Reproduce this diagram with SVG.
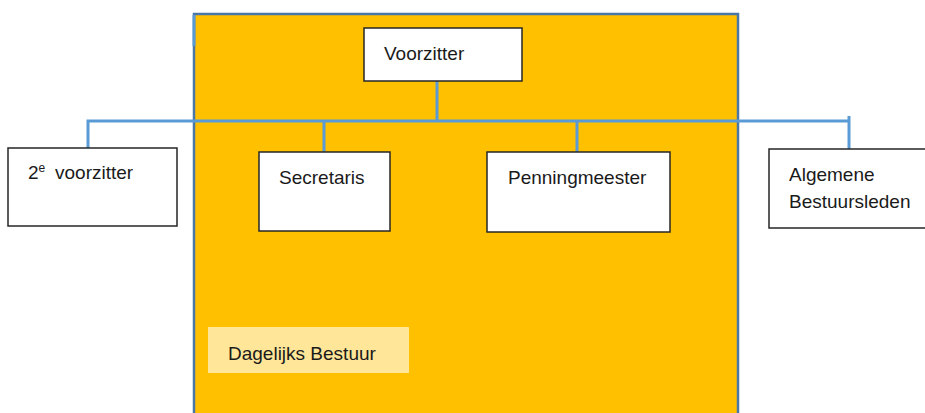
<svg xmlns="http://www.w3.org/2000/svg" width="925" height="413" viewBox="0 0 925 413">
<style>
.box{fill:#fff;stroke:#262626;stroke-width:1.5}
.t{font-family:"Liberation Sans",Arial,sans-serif;font-size:19px;fill:#1a1a1a}
.c{stroke:#5B9BD5;stroke-width:3;fill:none}
</style>
<rect width="925" height="413" fill="#fff"/>
<g id="dagelijks-bestuur-frame">
<rect x="194" y="14" width="544" height="410" fill="#FFC000" stroke="#4A76A8" stroke-width="2.5"/>
<rect x="208" y="327" width="201" height="46" fill="#FFE699"/>
<text class="t" x="228" y="360">Dagelijks Bestuur</text>
</g>
<g id="connectors">
<line class="c" x1="194" y1="15" x2="194" y2="46" stroke-width="2.5"/>
<line class="c" x1="437" y1="77" x2="437" y2="121"/>
<polyline class="c" points="88,149 88,121 849,121"/>
<line class="c" x1="849" y1="116" x2="849" y2="149"/>
<line class="c" x1="324" y1="121" x2="324" y2="152"/>
<line class="c" x1="577" y1="121" x2="577" y2="152"/>
</g>
<g id="voorzitter">
<rect class="box" x="364" y="28" width="158" height="53"/>
<text class="t" x="384" y="60" font-size="20">Voorzitter</text>
</g>
<g id="tweede-voorzitter">
<rect class="box" x="8" y="148" width="169" height="78"/>
<text class="t" x="28" y="179">2<tspan font-size="12" dy="-7">e</tspan></text>
<text class="t" x="55" y="179">voorzitter</text>
</g>
<g id="secretaris">
<rect class="box" x="259" y="152" width="131" height="79"/>
<text class="t" x="279" y="184">Secretaris</text>
</g>
<g id="penningmeester">
<rect class="box" x="487" y="152" width="183" height="80"/>
<text class="t" x="508" y="184">Penningmeester</text>
</g>
<g id="algemene-bestuursleden">
<rect class="box" x="769" y="149" width="160" height="79"/>
<text class="t" x="789" y="181">Algemene</text>
<text class="t" x="789" y="208">Bestuursleden</text>
</g>
</svg>
